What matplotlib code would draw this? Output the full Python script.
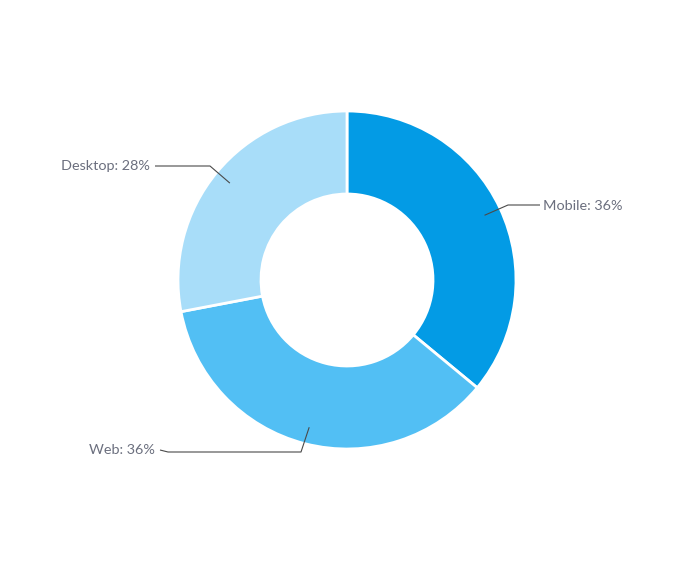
import matplotlib.pyplot as plt
import numpy as np

plt.rcParams["font.family"] = ["Lato", "DejaVu Sans"]

# data
labels = ["Mobile", "Web", "Desktop"]
shares = [36, 36, 28]
colors = ["#039be5", "#52bff4", "#a8ddf9"]

# canvas in pixel coordinates (y up)
W, H = 693, 561
fig = plt.figure(figsize=(W / 100, H / 100), dpi=100)
ax = fig.add_axes([0, 0, 1, 1])

cx, cy = 347, H - 280
r_out, r_in = 169, 86

wedges, _ = ax.pie(
    shares,
    colors=colors,
    startangle=90,
    counterclock=False,
    center=(cx, cy),
    radius=r_out,
    wedgeprops=dict(width=r_out - r_in, edgecolor="white", linewidth=2),
    frame=True,
)
ax.set_xlim(0, W)
ax.set_ylim(0, H)
ax.set_aspect("equal")
ax.axis("off")

# leader-line elbows (image coords) and label placement
elbows = {
    "Mobile": [(508, 205), (540, 205)],
    "Web": [(301, 452), (168, 452), (160, 450)],
    "Desktop": [(210, 166), (155, 166)],
}
text_pos = {
    "Mobile": (543, 206, "left"),
    "Web": (155, 450, "right"),
    "Desktop": (150, 166, "right"),
}

for w, lab, val in zip(wedges, labels, shares):
    mid = np.deg2rad((w.theta1 + w.theta2) / 2)
    x0 = cx + 152 * np.cos(mid)
    y0 = cy + 152 * np.sin(mid)
    pts = [(x0, y0)] + [(x, H - y) for x, y in elbows[lab]]
    xs, ys = zip(*pts)
    ax.plot(xs, ys, color="#4a4a4a", lw=0.8, solid_capstyle="butt")
    tx, ty, ha = text_pos[lab]
    ax.text(tx, H - ty, f"{lab}: {val}%", ha=ha, va="center",
            fontsize=10.4, color="#6b6f7e")

fig.savefig("out.png", dpi=100)
